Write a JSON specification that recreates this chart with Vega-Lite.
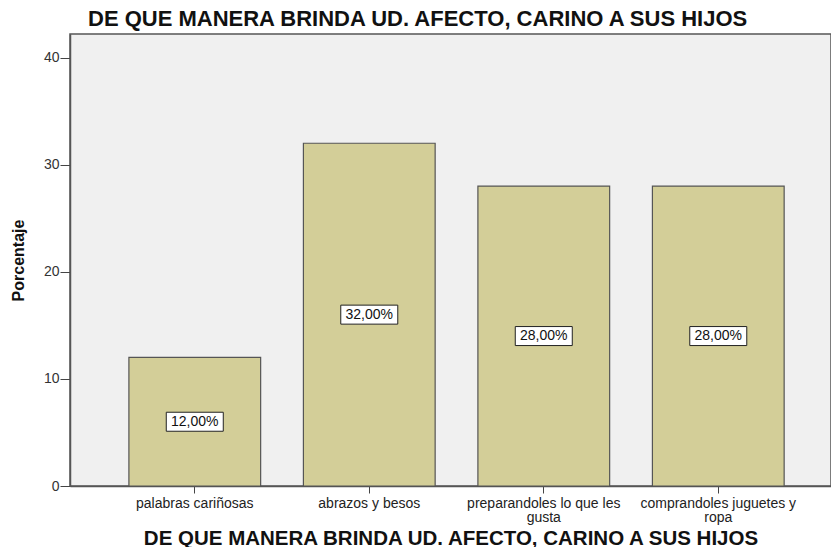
{
  "$schema": "https://vega.github.io/schema/vega-lite/v6.json",
  "width": 761,
  "height": 452,
  "autosize": {"type": "none"},
  "padding": {"left": 70, "top": 34, "right": 0, "bottom": 61},
  "background": "white",
  "title": {
    "text": "DE QUE MANERA BRINDA UD. AFECTO, CARINO A SUS HIJOS",
    "anchor": "start",
    "frame": "group",
    "dx": 18,
    "offset": 3,
    "font": "Liberation Sans",
    "fontSize": 22,
    "fontWeight": "bold",
    "color": "#111"
  },
  "config": {
    "view": {"fill": "#f0f0f0", "stroke": "#555", "strokeWidth": 1.5},
    "axis": {"labelFont": "Liberation Sans", "titleFont": "Liberation Sans", "grid": false}
  },
  "data": {
    "values": [
      {"categoria": "palabras cariñosas", "porcentaje": 12, "etiqueta": "12,00%"},
      {"categoria": "abrazos y besos", "porcentaje": 32, "etiqueta": "32,00%"},
      {"categoria": "preparandoles lo que les gusta", "porcentaje": 28, "etiqueta": "28,00%"},
      {"categoria": "comprandoles juguetes y ropa", "porcentaje": 28, "etiqueta": "28,00%"}
    ]
  },
  "encoding": {
    "x": {
      "field": "categoria",
      "type": "nominal",
      "sort": null,
      "scale": {"paddingInner": 0.245, "paddingOuter": 0.303, "align": 0.557},
      "axis": {
        "title": "DE QUE MANERA BRINDA UD. AFECTO, CARINO A SUS HIJOS",
        "titleFontSize": 20.5,
        "titleFontWeight": "bold",
        "titleColor": "#111",
        "titlePadding": 4,
        "labelAngle": 0,
        "labelFontSize": 14,
        "labelColor": "#222",
        "labelPadding": 3,
        "labelLineHeight": 14,
        "tickSize": 7,
        "tickColor": "#444",
        "domainColor": "#555",
        "domainWidth": 1.5,
        "labelExpr": "datum.value == 'preparandoles lo que les gusta' ? ['preparandoles lo que les', 'gusta'] : datum.value == 'comprandoles juguetes y ropa' ? ['comprandoles juguetes y', 'ropa'] : datum.value"
      }
    }
  },
  "layer": [
    {
      "mark": {"type": "bar", "fill": "#d3ce98", "stroke": "#555", "strokeWidth": 1.2},
      "encoding": {
        "y": {
          "field": "porcentaje",
          "type": "quantitative",
          "scale": {"domain": [0, 42.2], "nice": false},
          "axis": {
            "title": "Porcentaje",
            "titleFontSize": 16,
            "titleFontWeight": "bold",
            "titleColor": "#111",
            "titlePadding": 17,
            "values": [0, 10, 20, 30, 40],
            "labelFontSize": 14,
            "labelColor": "#333",
            "labelPadding": 1,
            "tickSize": 10,
            "tickColor": "#444",
            "domainColor": "#555",
            "domainWidth": 1.5
          }
        }
      }
    },
    {
      "transform": [{"calculate": "datum.porcentaje / 2", "as": "mitad"}],
      "mark": {"type": "point", "shape": "M-3,-1H3V1H-3Z", "size": 361, "filled": true, "fill": "white", "stroke": "#222", "strokeWidth": 1, "opacity": 1},
      "encoding": {
        "y": {"field": "mitad", "type": "quantitative", "scale": {"domain": [0, 42.2], "nice": false}}
      }
    },
    {
      "transform": [{"calculate": "datum.porcentaje / 2", "as": "mitad"}],
      "mark": {"type": "text", "font": "Liberation Sans", "fontSize": 14, "color": "#111", "baseline": "middle", "align": "center"},
      "encoding": {
        "y": {"field": "mitad", "type": "quantitative", "scale": {"domain": [0, 42.2], "nice": false}},
        "text": {"field": "etiqueta"}
      }
    }
  ]
}
